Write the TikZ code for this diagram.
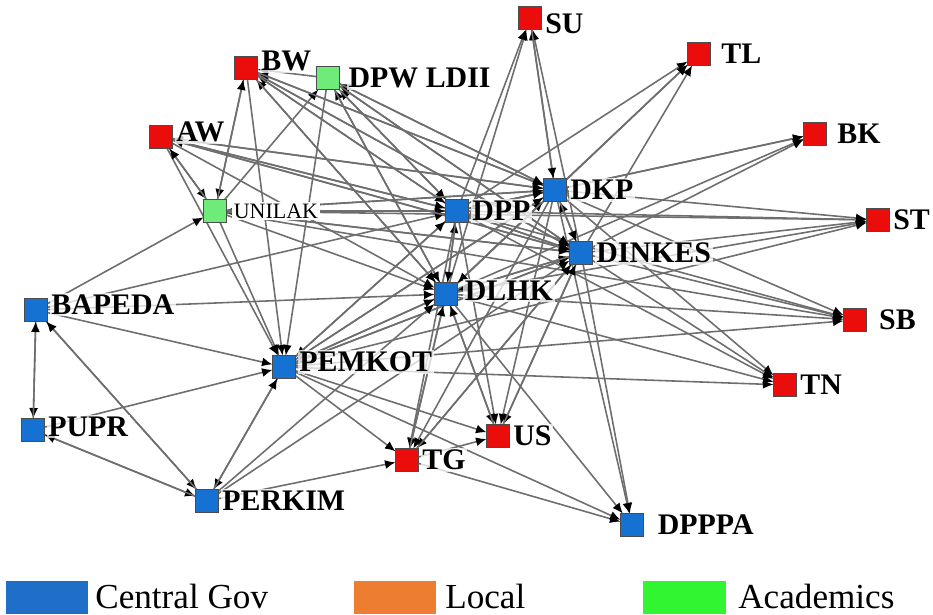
\documentclass[tikz,border=0pt]{standalone}
\usepackage{fontspec}
\setmainfont{Liberation Serif}
\usetikzlibrary{arrows.meta,backgrounds}
\definecolor{govblue}{RGB}{22,114,210}
\definecolor{locred}{RGB}{235,12,12}
\definecolor{acadgreen}{RGB}{110,235,120}
\definecolor{edgegray}{RGB}{110,110,110}
\definecolor{keyblue}{RGB}{31,110,200}
\definecolor{keyorange}{RGB}{237,125,49}
\definecolor{keygreen}{RGB}{50,245,50}
\tikzset{
  tie/.style={-{Latex[length=2.1mm, width=1.8mm, black]}, line width=0.9pt, draw=edgegray},
  actor/.style={draw=black!70, line width=0.5pt, minimum size=0.46cm, inner sep=0pt, outer sep=0pt},
  govnode/.style={actor, fill=govblue},
  locnode/.style={actor, fill=locred},
  acadnode/.style={actor, fill=acadgreen},
  actorlabel/.style={font=\fontsize{17}{17}\selectfont\bfseries, inner sep=1pt, fill=white, fill opacity=0.75, text opacity=1},
  keybox/.style={minimum width=1.66cm, minimum height=0.66cm, inner sep=0pt},
  keytext/.style={font=\fontsize{20}{20}\selectfont, inner sep=0pt, anchor=base west}
}

\begin{document}
\begin{tikzpicture}[x=0.02cm, y=-0.02cm, label distance=1pt]
  \useasboundingbox (0,0) rectangle (933,615);
  \node[locnode, label={[actorlabel, yshift=-3pt]right:SU}] (su) at (530,18) {};
  \node[locnode, label={[actorlabel, xshift=4pt]right:TL}] (tl) at (699,54) {};
  \node[locnode, label={[actorlabel, xshift=4pt]right:BK}] (bk) at (815,134) {};
  \node[locnode, label={[actorlabel]right:ST}] (st) at (878,220) {};
  \node[locnode, label={[actorlabel, xshift=5pt]right:SB}] (sb) at (855,320) {};
  \node[locnode, label={[actorlabel]right:TN}] (tn) at (785,385) {};
  \node[govnode, label={[actorlabel, xshift=6pt]right:DPPPA}] (dpppa) at (632,525) {};
  \node[locnode, label={[actorlabel]right:US}] (us) at (498,436) {};
  \node[locnode, label={[actorlabel]right:TG}] (tg) at (407,460) {};
  \node[govnode, label={[actorlabel]right:PERKIM}] (perkim) at (207,501) {};
  \node[govnode, label={[actorlabel, yshift=2pt]right:PUPR}] (pupr) at (33,430) {};
  \node[govnode, label={[actorlabel, yshift=3pt]right:BAPEDA}] (bapeda) at (36,310) {};
  \node[govnode, label={[actorlabel, yshift=3pt]right:PEMKOT}] (pemkot) at (284,367) {};
  \node[acadnode, label={[font=\fontsize{12.5}{12.5}\selectfont, inner sep=1pt, xshift=2pt, fill=white]right:UNILAK}] (unilak) at (215,211) {};
  \node[locnode, label={[actorlabel, yshift=3pt]right:AW}] (aw) at (161,137) {};
  \node[locnode, label={[actorlabel, yshift=4pt]right:BW}] (bw) at (246,68) {};
  \node[acadnode, label={[actorlabel, xshift=3pt]right:DPW LDII}] (ldii) at (328,78) {};
  \node[govnode, label={[actorlabel]right:DPP}] (dpp) at (457,211) {};
  \node[govnode, label={[actorlabel]right:DKP}] (dkp) at (555,190) {};
  \node[govnode, label={[actorlabel]right:DINKES}] (dinkes) at (581,253) {};
  \node[govnode, label={[actorlabel, yshift=2pt, xshift=2pt]right:DLHK}] (dlhk) at (446,294) {};

  \begin{scope}[on background layer]
  \foreach \src/\dst in {dpp/su, dkp/su, dlhk/su, dinkes/su, su/dkp,
      dpp/tl, dkp/tl, dinkes/tl, dlhk/tl,
      dpp/bk, dkp/bk, dinkes/bk, dlhk/bk,
      dpp/st, dkp/st, dinkes/st, dlhk/st, unilak/st, pemkot/st,
      dpp/sb, dkp/sb, dinkes/sb, dlhk/sb, pemkot/sb, unilak/sb,
      dpp/tn, dkp/tn, dinkes/tn, dlhk/tn, pemkot/tn,
      dkp/dpppa, dinkes/dpppa, dlhk/dpppa, tg/dpppa, pemkot/dpppa,
      dpp/us, dkp/us, dinkes/us, dlhk/us, pemkot/us, tg/us,
      dpp/tg, dkp/tg, dinkes/tg, dlhk/tg, pemkot/tg, perkim/tg,
      bapeda/perkim, pupr/perkim, pemkot/perkim,
      bapeda/pupr, perkim/pupr, pupr/bapeda, perkim/bapeda,
      bapeda/pemkot, pupr/pemkot, perkim/pemkot, unilak/pemkot, ldii/pemkot,
      bw/pemkot, aw/pemkot, dpp/pemkot, dkp/pemkot, dinkes/pemkot, dlhk/pemkot,
      aw/unilak, bw/unilak, bapeda/unilak, dpp/unilak, dkp/unilak, dinkes/unilak,
      unilak/aw, dpp/aw, dkp/aw, dinkes/aw,
      unilak/bw, ldii/bw, dpp/bw, dkp/bw, dinkes/bw, dlhk/bw,
      unilak/ldii, dpp/ldii, dkp/ldii, dinkes/ldii, dlhk/ldii,
      unilak/dpp, aw/dpp, bw/dpp, ldii/dpp, dkp/dpp, dinkes/dpp, dlhk/dpp, pemkot/dpp, bapeda/dpp,
      dpp/dkp, dinkes/dkp, dlhk/dkp, unilak/dkp, aw/dkp, bw/dkp, ldii/dkp, pemkot/dkp,
      dpp/dinkes, dkp/dinkes, dlhk/dinkes, unilak/dinkes, aw/dinkes, bw/dinkes, ldii/dinkes,
      pemkot/dinkes, tg/dinkes, us/dinkes, perkim/dinkes,
      dpp/dlhk, dkp/dlhk, dinkes/dlhk, unilak/dlhk, aw/dlhk, bw/dlhk, ldii/dlhk,
      pemkot/dlhk, bapeda/dlhk, tg/dlhk, us/dlhk, perkim/dlhk}
    \draw[tie] (\src) -- (\dst);
  \end{scope}

  \node[keybox, fill=keyblue] (govkey) at (47,597) {};
  \node[keytext] (govtext) at (95,608) {Central Gov};
  \node[keybox, fill=keyorange] (lockey) at (395,597) {};
  \node[keytext] (loctext) at (445,608) {Local};
  \node[keybox, fill=keygreen] (acadkey) at (684,597) {};
  \node[keytext] (acadtext) at (738,608) {Academics};
\end{tikzpicture}
\end{document}
